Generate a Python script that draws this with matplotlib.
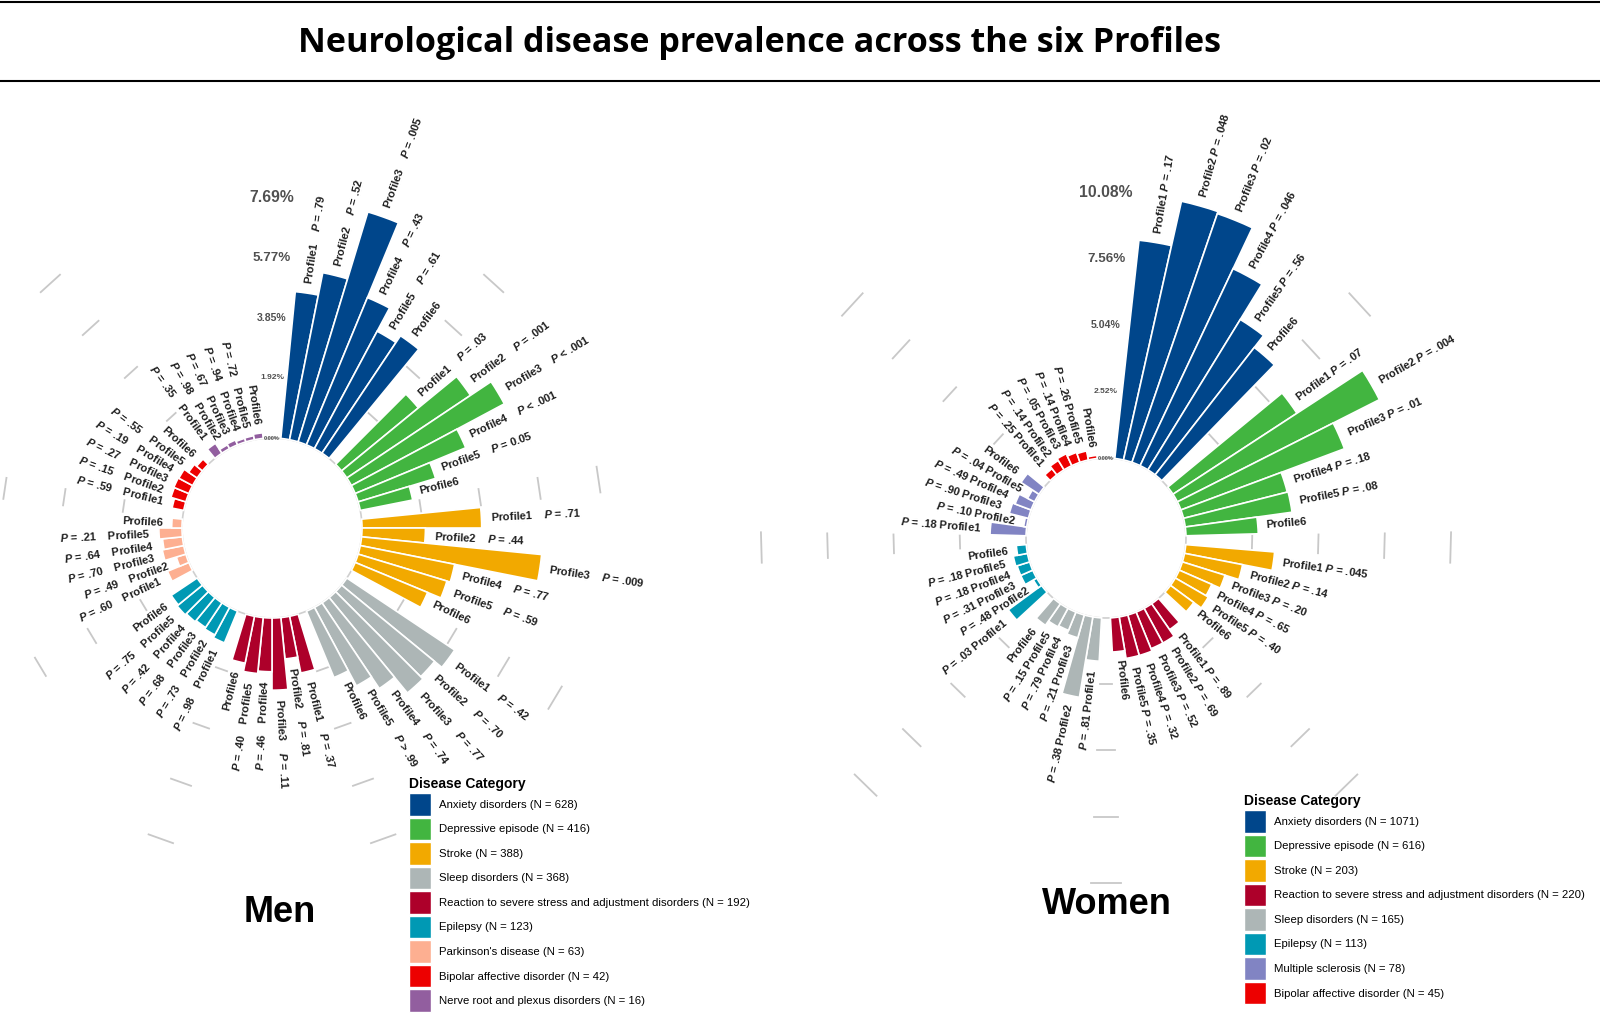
import numpy as np
import matplotlib
matplotlib.use("Agg")
import matplotlib.pyplot as plt
from matplotlib.patches import Patch
from matplotlib.lines import Line2D

plt.rcParams.update({
    "font.family": "Liberation Sans",
    "mathtext.fontset": "custom",
    "mathtext.it": "Liberation Sans:italic:bold",
    "mathtext.rm": "Liberation Sans:bold",
    "mathtext.bf": "Liberation Sans:bold",
})

W, H = 1600, 1016
PROFILES = ["Profile1", "Profile2", "Profile3", "Profile4", "Profile5", "Profile6"]

# ---- men ----
MEN_CATEGORIES = ["Anxiety disorders", "Depressive episode", "Stroke", "Sleep disorders",
                  "Reaction to severe stress and adjustment disorders", "Epilepsy",
                  "Parkinson's disease", "Bipolar affective disorder",
                  "Nerve root and plexus disorders"]
MEN_N = [628, 416, 388, 368, 192, 123, 63, 42, 16]
MEN_COLORS = ["#00468B", "#42B540", "#F2A900", "#ADB6B6", "#AD002A", "#0099B4",
              "#FDAF91", "#ED0000", "#925E9F"]
MEN_VALUES = [
    [4.72, 5.45, 7.69, 5.10, 4.26, 4.52],
    [3.18, 4.76, 5.55, 3.83, 2.59, 1.71],
    [3.83, 2.03, 5.79, 3.08, 2.97, 2.51],
    [4.15, 3.85, 3.95, 3.30, 2.85, 2.30],
    [1.85, 1.33, 2.31, 1.72, 1.80, 1.53],
    [1.10, 1.00, 0.95, 1.00, 1.05, 1.00],
    [0.74, 0.32, 0.70, 0.64, 0.74, 0.33],
    [0.38, 0.50, 0.52, 0.50, 0.33, 0.24],
    [0.38, 0.14, 0.17, 0.12, 0.13, 0.18],
]
MEN_P = [
    ["= .79", "= .52", "= .005", "= .43", "= .61"],
    ["= .03", "= .001", "< .001", "< .001", "= 0.05"],
    ["= .71", "= .44", "= .009", "= .77", "= .59"],
    ["= .42", "= .70", "= .77", "= .74", "> .99"],
    ["= .37", "= .81", "= .11", "= .46", "= .40"],
    ["= .98", "= .73", "= .68", "= .42", "= .75"],
    ["= .60", "= .49", "= .70", "= .64", "= .21"],
    ["= .59", "= .15", "= .27", "= .19", "= .55"],
    ["= .35", "= .98", "= .67", "= .94", "= .72"],
]

# ---- women ----
WOMEN_CATEGORIES = ["Anxiety disorders", "Depressive episode", "Stroke",
                    "Reaction to severe stress and adjustment disorders", "Sleep disorders",
                    "Epilepsy", "Multiple sclerosis", "Bipolar affective disorder"]
WOMEN_N = [1071, 616, 203, 220, 165, 113, 78, 45]
WOMEN_COLORS = ["#00468B", "#42B540", "#F2A900", "#AD002A", "#ADB6B6", "#0099B4",
                "#8184C3", "#ED0000"]
WOMEN_VALUES = [
    [8.35, 10.08, 10.00, 8.28, 6.71, 6.14],
    [5.63, 8.61, 6.64, 4.07, 4.10, 2.75],
    [3.39, 2.25, 1.70, 1.35, 1.45, 1.10],
    [1.20, 1.50, 1.50, 1.60, 1.60, 1.30],
    [1.65, 3.10, 0.90, 0.75, 0.80, 1.00],
    [1.57, 0.15, 0.50, 0.50, 0.55, 0.38],
    [1.37, 0.12, 0.75, 0.65, 0.30, 0.82],
    [0.30, 0.42, 0.50, 0.40, 0.35, 0.12],
]
WOMEN_P = [
    ["= .17", "= .048", "= .02", "= .046", "= .56"],
    ["= .07", "= .004", "= .01", "= .18", "= .08"],
    ["= .045", "= .14", "= .20", "= .65", "= .40"],
    ["= .89", "= .69", "= .52", "= .32", "= .35"],
    ["= .81", "= .38", "= .21", "= .79", "= .15"],
    ["= .03", "= .48", "= .31", "= .18", "= .18"],
    ["= .18", "= .10", "= .90", "= .49", "= .04"],
    ["= .25", "= .14", "= .05", "= .14", "= .26"],
]


def circular_bars(fig, cx, cy, px_per_unit, hole_px, values, colors, pvals, sep, offset):
    top = max(max(v) for v in values)
    hole = hole_px / px_per_unit
    R = (top + hole) * px_per_unit
    ax = fig.add_axes([(cx - R) / W, (H - cy - R) / H, 2 * R / W, 2 * R / H],
                      projection="polar")
    ax.set_theta_zero_location("N")
    ax.set_theta_direction(-1)
    ax.set_rorigin(-hole)
    ax.set_ylim(0, top)
    ax.set_axis_off()

    nslots = len(values) * 7 + 1
    step = 2 * np.pi / nslots

    t = np.linspace(0, 2 * np.pi, 400)
    ax.plot(t, np.zeros_like(t), color="#cfcfcf", lw=1.2, zorder=1, clip_on=False)

    for g, (vals, col, ps) in enumerate(zip(values, colors, pvals)):
        theta = (7 * g + 1 + np.arange(6) + 0.5) * step
        ax.bar(theta, vals, width=step, bottom=0, color=col, edgecolor="white",
               linewidth=1.2, zorder=3, clip_on=False)
        if g > 0:
            g0 = 7 * g * step
            for k in (1, 2, 3, 4):
                ax.plot([g0 + 0.1 * step, g0 + 0.9 * step], [top * k / 4] * 2,
                        color="#c8c8c8", lw=1.3, zorder=1, clip_on=False)
        for i, (th, v) in enumerate(zip(theta, vals)):
            deg = np.degrees(th)
            right = deg < 180
            if i < len(ps):
                ptxt = r"$\mathit{P}$ " + ps[i]
                txt = PROFILES[i] + sep + ptxt if right else ptxt + sep + PROFILES[i]
            else:
                txt = PROFILES[i]
            rot = 90 - deg if right else 270 - deg
            ax.text(th, v + offset, txt, rotation=rot, rotation_mode="anchor",
                    ha="left" if right else "right", va="center", fontsize=8,
                    fontweight="bold", color="#1e1e1e", zorder=4)

    sizes = [4, 6, 7.6, 9.6, 11.3]
    for k in range(5):
        lvl = top * k / 4
        ax.text(0, lvl, f"{lvl:.2f}%", ha="center", va="center", fontsize=sizes[k],
                fontweight="bold", color="#505050", zorder=5)
    return ax


def add_legend(fig, x, y, categories, ns, colors):
    handles = [Patch(facecolor=c, edgecolor="white") for c in colors]
    labels = [f"{c} (N = {n})" for c, n in zip(categories, ns)]
    fig.legend(handles, labels, title="Disease Category", loc="upper left",
               bbox_to_anchor=(x / W, 1 - y / H), frameon=False, fontsize=8.2,
               title_fontproperties={"weight": "bold", "size": 10},
               handlelength=1.93, handleheight=2.66, labelspacing=0.18,
               handletextpad=0.72, alignment="left", borderpad=0.3)


fig = plt.figure(figsize=(W / 100, H / 100), dpi=100)

fig.add_artist(Line2D([0, 1], [1 - 1.5 / H] * 2, transform=fig.transFigure, color="black", lw=1.5))
fig.add_artist(Line2D([0, 1], [1 - 81 / H] * 2, transform=fig.transFigure, color="black", lw=1.5))
fig.text(759 / W, 1 - 43 / H, "Neurological disease prevalence across the six Profiles",
         ha="center", va="center", fontsize=24.6, fontweight="bold", family="Open Sans")

circular_bars(fig, 272, 528, 31.25, 90, MEN_VALUES, MEN_COLORS, MEN_P, "    ", 0.29)
circular_bars(fig, 1106, 538, 26.3, 80, WOMEN_VALUES, WOMEN_COLORS, WOMEN_P, " ", 0.33)

add_legend(fig, 400, 768, MEN_CATEGORIES, MEN_N, MEN_COLORS)
add_legend(fig, 1235, 785, WOMEN_CATEGORIES, WOMEN_N, WOMEN_COLORS)

fig.text(280 / W, 1 - 913 / H, "Men", ha="center", va="center", fontsize=26, fontweight="bold")
fig.text(1107 / W, 1 - 904 / H, "Women", ha="center", va="center", fontsize=26, fontweight="bold")

fig.savefig("out.png", dpi=100, facecolor="white")
